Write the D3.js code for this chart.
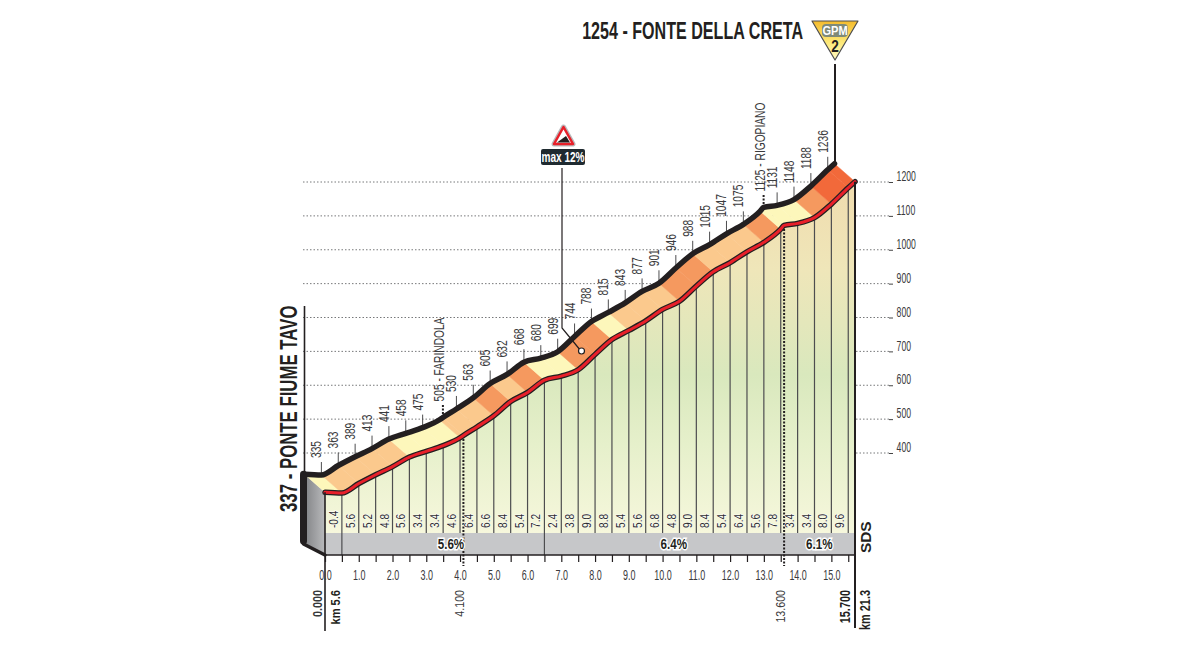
<!DOCTYPE html>
<html>
<head>
<meta charset="utf-8">
<style>
  html, body { margin: 0; padding: 0; background: #fff; }
  svg { display: block; }
  text { font-family: "Liberation Sans", sans-serif; }
  .domain { display: none; }
</style>
<script src="https://cdn.jsdelivr.net/npm/d3@7/dist/d3.min.js"></script>
</head>
<body>
<div id="chart-area"></div>
<script>
// profile points, km and metres
var profileKm = [0, 0.5, 1, 1.5, 2, 2.5, 3, 3.5, 4, 4.1, 4.5, 5, 5.5, 6, 6.5, 7, 7.5, 8, 8.5, 9, 9.5, 10, 10.5, 11, 11.5, 12, 12.5, 13, 13.5, 13.6, 14, 14.5, 15, 15.5, 15.7];
var profileElev = [337, 335, 363, 389, 413, 441, 458, 475, 498, 505, 530, 563, 605, 632, 668, 680, 699, 744, 788, 815, 843, 877, 901, 946, 988, 1015, 1047, 1075, 1114, 1125, 1131, 1148, 1188, 1236, 1254];

// elevation labels on the ridge, one per half km
var labelKm = [0.5, 1, 1.5, 2, 2.5, 3, 3.5, 4.5, 5, 5.5, 6, 6.5, 7, 7.5, 8, 8.5, 9, 9.5, 10, 10.5, 11, 11.5, 12, 12.5, 13, 14, 14.5, 15, 15.5];
var labelElev = [335, 363, 389, 413, 441, 458, 475, 530, 563, 605, 632, 668, 680, 699, 744, 788, 815, 843, 877, 901, 946, 988, 1015, 1047, 1075, 1131, 1148, 1188, 1236];

// gradient of each half km
var slopeStart = [0, 0.5, 1, 1.5, 2, 2.5, 3, 3.5, 4, 4.5, 5, 5.5, 6, 6.5, 7, 7.5, 8, 8.5, 9, 9.5, 10, 10.5, 11, 11.5, 12, 12.5, 13, 13.5, 14, 14.5, 15];
var slopeText = ["-0.4", "5.6", "5.2", "4.8", "5.6", "3.4", "3.4", "4.6", "6.4", "6.6", "8.4", "5.4", "7.2", "2.4", "3.8", "9.0", "8.8", "5.4", "5.6", "6.8", "4.8", "9.0", "8.4", "5.4", "6.4", "5.6", "7.8", "3.4", "3.4", "8.0", "9.6"];

// road colour per profile segment, 0 flat .. 3 steep
var segLevel = [0, 1, 1, 1, 1, 0, 0, 0, 1, 1, 1, 2, 1, 2, 0, 0, 2, 2, 0, 1, 1, 1, 2, 2, 1, 1, 1, 2, 0, 0, 0, 2, 3, 3];
var levelColors = ["#fdf7bb", "#fbc98d", "#f5995f", "#f2693a"];

// section averages
var sectionKm = [3.73, 10.33, 14.64];
var sectionText = ["5.6%", "6.4%", "6.1%"];
var sectionBreaks = [0.5, 6.5];

var kmTicks = d3.range(0, 15.6, 0.5);
var elevTicks = [400, 500, 600, 700, 800, 900, 1000, 1100, 1200];

// named places
var placeKm = [4.1, 13.6];
var placeElev = [505, 1125];
var placeText = ["505 - FARINDOLA", "1125 - RIGOPIANO"];
var placeDist = ["4.100", "13.600"];

var width = 1200;
var height = 660;

var bandTop = 533;
var bandBottom = 555;
var backShift = -20.5; // ridge is drawn behind the road
var frontDrop = 18;

var svg = d3.select("#chart-area")
    .append("svg")
    .attr("width", width)
    .attr("height", height);

var x = d3.scaleLinear().domain([0, 15.7]).range([325, 855]);
var y = d3.scaleLinear().domain([400, 1200]).range([453, 182]);

var points = profileKm.map(function(km, i) {
    return { km: km, elev: profileElev[i] };
});

var backX = function(d) { return x(d.km) + backShift; };
var frontY = function(d) { return y(d.elev) + frontDrop; };

// no condensed face is installed, so squeeze along the reading direction
function vert(px, py, squeeze) {
    return "translate(" + px + "," + py + ") rotate(-90) scale(" + squeeze + ",1)";
}

var defs = svg.append("defs");

var green = defs.append("linearGradient")
    .attr("id", "hill")
    .attr("gradientUnits", "userSpaceOnUse")
    .attr("x1", 0).attr("x2", 0)
    .attr("y1", 182).attr("y2", bandTop);
[[0, "#f0dcae"], [0.25, "#efe6b9"], [0.55, "#d9e8bd"], [0.75, "#e6f0cb"], [1, "#f6f7dc"]].forEach(function(s) {
    green.append("stop").attr("offset", s[0]).attr("stop-color", s[1]);
});

var wallFill = defs.append("linearGradient")
    .attr("id", "wall")
    .attr("x1", 0).attr("x2", 1).attr("y1", 0).attr("y2", 0);
wallFill.append("stop").attr("offset", 0).attr("stop-color", "#828386");
wallFill.append("stop").attr("offset", 1).attr("stop-color", "#b9babc");

var gold = defs.append("linearGradient")
    .attr("id", "gold")
    .attr("x1", 0).attr("x2", 0).attr("y1", 0).attr("y2", 1);
gold.append("stop").attr("offset", 0).attr("stop-color", "#f4bb2c");
gold.append("stop").attr("offset", 0.55).attr("stop-color", "#fde978");
gold.append("stop").attr("offset", 1).attr("stop-color", "#fff9c4");

// grid
svg.append("g").selectAll("line")
    .data(elevTicks)
    .enter()
    .append("line")
    .attr("x1", 303)
    .attr("x2", 889)
    .attr("y1", function(d) { return y(d); })
    .attr("y2", function(d) { return y(d); })
    .attr("stroke", "#77787a")
    .attr("stroke-width", 1)
    .attr("stroke-dasharray", "1.5 2");

var elevAxis = svg.append("g")
    .attr("transform", "translate(893,0)")
    .call(d3.axisRight(y).tickValues(elevTicks).tickSizeInner(-4).tickSizeOuter(0).tickPadding(6).tickFormat(d3.format("d")));
elevAxis.selectAll("text")
    .attr("y", -6)
    .attr("font-size", 14.5)
    .attr("fill", "#3a3a3c")
    .attr("transform", "scale(0.6,1)");
elevAxis.selectAll("line").attr("stroke", "#444");

// hill under the road
var area = d3.area()
    .x(function(d) { return x(d.km); })
    .y0(bandTop)
    .y1(frontY);
svg.append("path")
    .datum(points)
    .attr("d", area)
    .attr("fill", "url(#hill)");

// left wall
svg.append("path")
    .attr("d", "M" + x(0) + "," + frontY(points[0]) + "L" + (x(0) + backShift) + "," + y(337) + "V544L" + x(0) + "," + bandBottom + "Z")
    .attr("fill", "url(#wall)");

// grey band
svg.append("rect")
    .attr("x", x(0))
    .attr("y", bandTop)
    .attr("width", x(15.7) - x(0))
    .attr("height", bandBottom - bandTop)
    .attr("fill", "#c6c7c9");

// half km verticals
svg.append("g").selectAll("line")
    .data(points.filter(function(d) { return kmTicks.indexOf(d.km) >= 0 && d.km > 0; }))
    .enter()
    .append("line")
    .attr("x1", function(d) { return x(d.km); })
    .attr("x2", function(d) { return x(d.km); })
    .attr("y1", frontY)
    .attr("y2", function(d) { return sectionBreaks.indexOf(d.km) >= 0 ? bandBottom : bandTop; })
    .attr("stroke", "#4d4d4f")
    .attr("stroke-width", 1.2);

// road surface, one quad per segment
svg.append("g").selectAll("path")
    .data(d3.pairs(points))
    .enter()
    .append("path")
    .attr("d", function(p) {
        return "M" + backX(p[0]) + "," + y(p[0].elev) +
            "L" + backX(p[1]) + "," + y(p[1].elev) +
            "L" + x(p[1].km) + "," + frontY(p[1]) +
            "L" + x(p[0].km) + "," + frontY(p[0]) + "Z";
    })
    .attr("fill", function(p, i) { return levelColors[segLevel[i]]; })
    .attr("stroke", function(p, i) { return levelColors[segLevel[i]]; })
    .attr("stroke-width", 0.5);

// ticks and labels above the ridge
var ridgeTicks = svg.append("g").selectAll("g")
    .data(labelKm)
    .enter()
    .append("g");
ridgeTicks.append("line")
    .attr("x1", function(d) { return x(d) + backShift; })
    .attr("x2", function(d) { return x(d) + backShift; })
    .attr("y1", function(d, i) { return y(labelElev[i]); })
    .attr("y2", function(d, i) { return y(labelElev[i]) - 13; })
    .attr("stroke", "#4d4d4f")
    .attr("stroke-width", 1);
ridgeTicks.append("text")
    .attr("transform", function(d, i) { return vert(x(d) + backShift, y(labelElev[i]) - 17, 0.68); })
    .attr("font-size", 15)
    .attr("fill", "#3a3a3c")
    .text(function(d, i) { return labelElev[i]; });

// named places
var places = svg.append("g").selectAll("g")
    .data(placeKm)
    .enter()
    .append("g");
places.append("line")
    .attr("x1", function(d) { return x(d) + backShift; })
    .attr("x2", function(d) { return x(d) + backShift; })
    .attr("y1", function(d, i) { return y(placeElev[i]); })
    .attr("y2", function(d, i) { return y(placeElev[i]) - 14; })
    .attr("stroke", "#231f20")
    .attr("stroke-width", 2)
    .attr("stroke-dasharray", "2 1.5");
places.append("text")
    .attr("transform", function(d, i) { return vert(x(d) + backShift + 1, y(placeElev[i]) - 16, 0.68); })
    .attr("font-size", 15)
    .attr("fill", "#3a3a3c")
    .text(function(d, i) { return placeText[i]; });

// ridge and road lines
var backLine = d3.line().x(backX).y(function(d) { return y(d.elev); }).curve(d3.curveMonotoneX);
var frontLine = d3.line().x(function(d) { return x(d.km); }).y(frontY).curve(d3.curveMonotoneX);

svg.append("path")
    .datum(points)
    .attr("d", backLine)
    .attr("fill", "none")
    .attr("stroke", "#231f20")
    .attr("stroke-width", 5.5)
    .attr("stroke-linecap", "round")
    .attr("stroke-linejoin", "round");
svg.append("path")
    .datum(points)
    .attr("d", frontLine)
    .attr("fill", "none")
    .attr("stroke", "#231f20")
    .attr("stroke-width", 5.5)
    .attr("stroke-linecap", "round")
    .attr("stroke-linejoin", "round");
svg.append("path")
    .datum(points)
    .attr("d", frontLine)
    .attr("fill", "none")
    .attr("stroke", "#e8202a")
    .attr("stroke-width", 3)
    .attr("stroke-linecap", "round")
    .attr("stroke-linejoin", "round");

// wall edges
svg.append("path")
    .attr("d", "M" + (x(0) + backShift - 1) + "," + y(337) + "V541")
    .attr("stroke", "#231f20")
    .attr("stroke-width", 7)
    .attr("stroke-linecap", "round");
svg.append("path")
    .attr("d", "M" + (x(0) + backShift - 1) + ",544L" + x(0) + "," + bandBottom)
    .attr("stroke", "#231f20")
    .attr("stroke-width", 3.5)
    .attr("stroke-linecap", "round");

// frame verticals and x axis
svg.append("line").attr("x1", x(0)).attr("x2", x(0)).attr("y1", frontY(points[0])).attr("y2", 631).attr("stroke", "#231f20").attr("stroke-width", 1.6);
svg.append("line").attr("x1", x(15.7)).attr("x2", x(15.7)).attr("y1", y(1254) + frontDrop).attr("y2", 628).attr("stroke", "#231f20").attr("stroke-width", 2);
svg.append("line").attr("x1", x(0) + backShift).attr("x2", x(0) + backShift).attr("y1", 306).attr("y2", y(337)).attr("stroke", "#231f20").attr("stroke-width", 1.6);

var xAxis = svg.append("g")
    .attr("transform", "translate(0," + bandBottom + ")")
    .call(d3.axisBottom(x)
        .tickValues(kmTicks)
        .tickSizeInner(7)
        .tickSizeOuter(0)
        .tickPadding(8)
        .tickFormat(function(d) { return d % 1 === 0 ? d.toFixed(1) : ""; }));
xAxis.selectAll("text").attr("font-size", 14.5).attr("fill", "#3a3a3c").attr("transform", "scale(0.62,1)");
xAxis.selectAll("line").attr("stroke", "#231f20").attr("stroke-width", 1.2);
svg.append("line").attr("x1", x(0)).attr("x2", x(15.7)).attr("y1", bandBottom).attr("y2", bandBottom).attr("stroke", "#231f20").attr("stroke-width", 1.6);

// gradient labels
svg.append("g").selectAll("text")
    .data(slopeStart)
    .enter()
    .append("text")
    .attr("transform", function(d) { return vert(x(d + 0.25) + 4.5, 528, 0.78); })
    .attr("font-size", 13)
    .attr("fill", "#2e2e30")
    .attr("stroke", "#fff")
    .attr("stroke-width", 1)
    .attr("paint-order", "stroke")
    .text(function(d, i) { return slopeText[i]; });

// dotted drops at the named places, these run over the band
places.append("line")
    .attr("x1", function(d) { return x(d); })
    .attr("x2", function(d) { return x(d); })
    .attr("y1", function(d, i) { return y(placeElev[i]) + frontDrop; })
    .attr("y2", 566)
    .attr("stroke", "#231f20")
    .attr("stroke-width", 2)
    .attr("stroke-dasharray", "2 1.5");
places.append("text")
    .attr("transform", function(d) { return vert(x(d) + 0.5, 590, 0.79); })
    .attr("text-anchor", "end")
    .attr("font-size", 13.5)
    .attr("fill", "#3a3a3c")
    .text(function(d, i) { return placeDist[i]; });

// section averages
svg.append("g").selectAll("text")
    .data(sectionKm)
    .enter()
    .append("text")
    .attr("transform", function(d) { return "translate(" + x(d) + ",549) scale(0.8,1)"; })
    .attr("text-anchor", "middle")
    .attr("font-size", 14.5)
    .attr("font-weight", "bold")
    .attr("fill", "#231f20")
    .attr("stroke", "#fff")
    .attr("stroke-width", 3)
    .attr("paint-order", "stroke")
    .text(function(d, i) { return sectionText[i]; });

// start and finish captions
function vText(px, py, txt, size, weight, anchor, color, squeeze) {
    return svg.append("text")
        .attr("transform", vert(px, py, squeeze))
        .attr("text-anchor", anchor)
        .attr("font-size", size)
        .attr("font-weight", weight)
        .attr("fill", color)
        .text(txt);
}
vText(x(0) - 3, 590, "0.000", 13.5, "bold", "end", "#3a3a3c", 0.8);
vText(x(0) + 15, 590, "km 5.6", 13.5, "bold", "end", "#231f20", 0.82);
vText(x(15.7) - 5, 590, "15.700", 14.5, "bold", "end", "#231f20", 0.75);
vText(x(15.7) + 15, 590, "km 21.3", 14, "bold", "end", "#231f20", 0.78);
vText(297, 512, "337 - PONTE FIUME TAVO", 24, "bold", "start", "#231f20", 0.7);
vText(871, 553, "SDS", 14, "bold", "start", "#231f20", 1.1);

svg.append("text")
    .attr("transform", "translate(803,39) scale(0.7,1)")
    .attr("text-anchor", "end")
    .attr("font-size", 23)
    .attr("font-weight", "bold")
    .attr("fill", "#231f20")
    .text("1254 - FONTE DELLA CRETA");

// GPM badge and finish line
svg.append("line").attr("x1", 835).attr("x2", 835).attr("y1", 64).attr("y2", y(1254) + 2).attr("stroke", "#231f20").attr("stroke-width", 2);
svg.append("path")
    .attr("d", "M812,21H858L835,60Z")
    .attr("fill", "url(#gold)")
    .attr("stroke", "#4d4d4f")
    .attr("stroke-width", 1.2)
    .attr("stroke-linejoin", "round");
svg.append("rect").attr("x", 822).attr("y", 24).attr("width", 26).attr("height", 13).attr("rx", 4).attr("fill", "#7f8a78");
svg.append("text")
    .attr("transform", "translate(835,35) scale(0.85,1)")
    .attr("text-anchor", "middle")
    .attr("font-size", 13)
    .attr("font-weight", "bold")
    .attr("fill", "#fff")
    .text("GPM");
svg.append("text")
    .attr("transform", "translate(835,52) scale(0.85,1)")
    .attr("text-anchor", "middle")
    .attr("font-size", 16)
    .attr("font-weight", "bold")
    .attr("fill", "#231f20")
    .text("2");

// max gradient marker
svg.append("path")
    .attr("d", "M563.5,127L573,144H554Z")
    .attr("fill", "#fff")
    .attr("stroke", "#b9babc")
    .attr("stroke-width", 5)
    .attr("stroke-linejoin", "round");
svg.append("path")
    .attr("d", "M563.5,127L573,144H554Z")
    .attr("fill", "#fff")
    .attr("stroke", "#e8202a")
    .attr("stroke-width", 2.5)
    .attr("stroke-linejoin", "round");
svg.append("path")
    .attr("d", "M557,142.5L566,136L570,142.5Z")
    .attr("fill", "#231f20");
svg.append("rect").attr("x", 541).attr("y", 149).attr("width", 44).attr("height", 16).attr("rx", 2).attr("fill", "#1f2a30");
svg.append("text")
    .attr("transform", "translate(563,162) scale(0.72,1)")
    .attr("text-anchor", "middle")
    .attr("font-size", 14)
    .attr("font-weight", "bold")
    .attr("fill", "#fff")
    .text("max 12%");
svg.append("path")
    .attr("d", "M562,168V328L581,351")
    .attr("fill", "none")
    .attr("stroke", "#231f20")
    .attr("stroke-width", 1.2);
svg.append("circle")
    .attr("cx", 581.5).attr("cy", 351).attr("r", 3)
    .attr("fill", "#fff")
    .attr("stroke", "#231f20")
    .attr("stroke-width", 1.2);
</script>
</body>
</html>
